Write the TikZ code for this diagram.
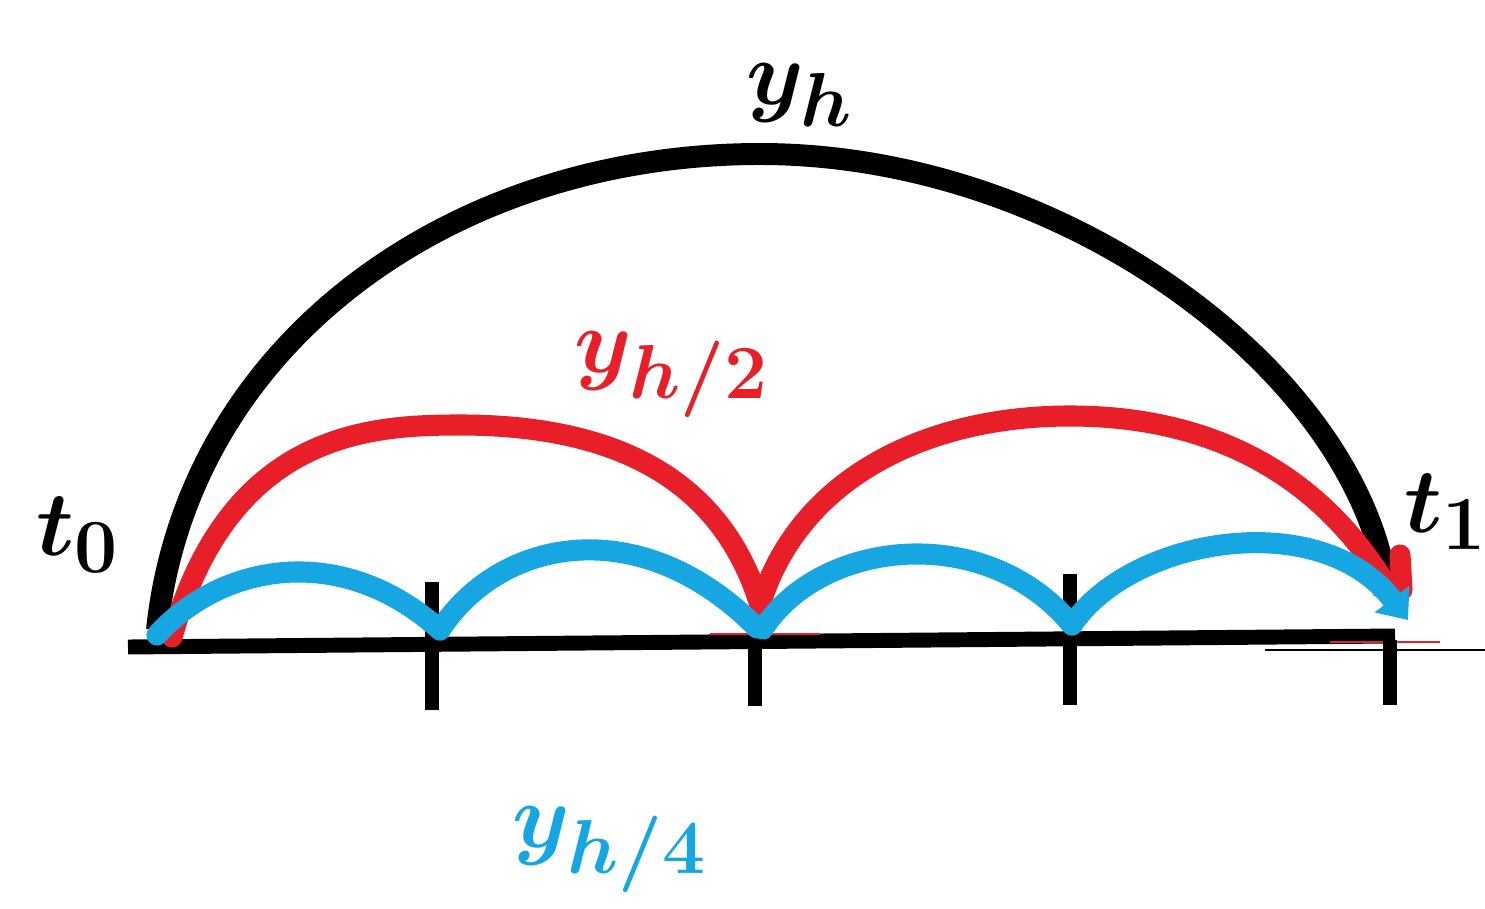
\documentclass[tikz,border=0pt]{standalone}
\usepackage{amsmath}
\usepackage{bm}
\usepackage{graphicx}
\usetikzlibrary{arrows.meta}
\definecolor{cred}{RGB}{232,30,40}
\definecolor{cblue}{RGB}{22,166,226}
\newcommand{\biglbl}[1]{\scalebox{2.1}{#1}}
\tikzset{
  axis/.style={line width=8.5pt, black},
  tick/.style={line width=8pt, black},
  bigarc/.style={line width=12.5pt, black},
  halfarc/.style={line width=12pt, cred, line cap=round},
  quarc/.style={line width=12pt, cblue, line cap=round},
  thin/.style={line width=0.8pt},
  lbl/.style={inner sep=0pt, font=\Huge}
}
\begin{document}
\begin{tikzpicture}[x=0.02cm, y=-0.02cm]
\useasboundingbox (0,0) rectangle (1485,909);
% baseline points
\coordinate (a0) at (128,647);
\coordinate (a1) at (1395,636);
\coordinate (p0) at (157,635);
\coordinate (p1) at (440,630);
\coordinate (p2) at (757,628);
\coordinate (p2r) at (763,629);
\coordinate (p3) at (1072,625);
\coordinate (p4) at (1408,620);
% axis
\draw[axis] (a0) -- (a1);
\draw[thin] (1265,650) coordinate (l0) -- (1485,650) coordinate (l1);
\draw[thin, cred] (1330,642) coordinate (r0) -- (1440,642) coordinate (r1);
\draw[thin, cred] (710,634) coordinate (r2) -- (820,634) coordinate (r3);
% ticks
\draw[tick] (432,582) coordinate (t1a) -- (432,710) coordinate (t1b);
\draw[tick] (755,640) coordinate (t2a) -- (755,706) coordinate (t2b);
\draw[tick] (1070,574) coordinate (t3a) -- (1070,705) coordinate (t3b);
\draw[tick] (1390,640) coordinate (t4a) -- (1390,705) coordinate (t4b);
% black arc
\draw[bigarc] (157,630) coordinate (b0) .. controls (187,345) and (450,154) .. (760,154) coordinate (bt)
  .. controls (1060,154) and (1345,365) .. (1385,575) coordinate (b1);
% red arcs
\draw[halfarc] (172,637) coordinate (h0) .. controls (230,432) and (370,425) .. (460,425) coordinate (ht1)
  .. controls (610,425) and (720,475) .. (760,605) coordinate (hm);
\draw[halfarc, -{Triangle[length=12pt,width=18pt]}] (hm) .. controls (800,475) and (930,416) .. (1070,416) coordinate (ht2)
  .. controls (1230,416) and (1330,490) .. (1398,605) coordinate (h1);
\draw[halfarc] (1400,555) coordinate (hx0) -- (1402,590) coordinate (hx1);
% blue arcs
\draw[quarc] (p0) .. controls (220,565) and (340,540) .. (p1);
\draw[quarc] (p1) .. controls (500,538) and (640,510) .. (p2);
\draw[quarc] (p2r) .. controls (820,540) and (985,520) .. (p3);
\draw[quarc, -{Triangle[length=15pt,width=24pt]}] (p3) .. controls (1130,538) and (1320,505) .. (p4);
% labels
\node[lbl] (yh) at (800,95) {\biglbl{$\bm{y}_{\bm{h}}$}};
\node[lbl, text=cred] (yh2) at (672,375) {\biglbl{$\bm{y}_{\bm{h/2}}$}};
\node[lbl, text=cblue] (yh4) at (610,850) {\biglbl{$\bm{y}_{\bm{h/4}}$}};
\node[lbl] (t0) at (78,535) {\biglbl{$\bm{t}_{\bm{0}}$}};
\node[lbl, anchor=west] (t1) at (1404,512) {\biglbl{$\bm{t}_{\bm{1}}$}};
\end{tikzpicture}
\end{document}
